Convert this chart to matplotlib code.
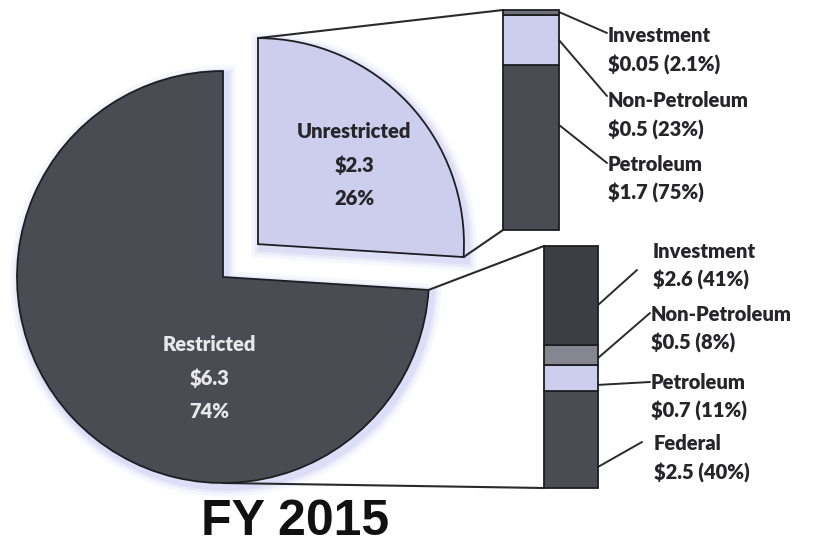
import numpy as np
import matplotlib.pyplot as plt
from matplotlib.patches import ConnectionPatch, Wedge

plt.rcParams['text.parse_math'] = False

# main split (FY 2015, $ billions)
main_labels = ['Unrestricted', 'Restricted']
main_values = [2.3, 6.3]
main_pct = [26, 74]

# unrestricted breakdown, bottom to top
unres_labels = ['Petroleum', 'Non-Petroleum', 'Investment']
unres_values = [1.7, 0.5, 0.05]
unres_pct = [75, 23, 2.1]

# restricted breakdown, bottom to top
res_labels = ['Federal', 'Petroleum', 'Non-Petroleum', 'Investment']
res_values = [2.5, 0.7, 0.5, 2.6]
res_pct = [40, 11, 8, 41]

title = 'FY 2015'

W, H = 817, 544
LAV = '#cdcdee'
DARK = '#4b4c53'
EDGE = '#1e1e22'
LINE = '#2a2a2e'
TXT = '#26262a'
FONT = ['Lato', 'DejaVu Sans']
WEIGHT = 'heavy'

fig = plt.figure(figsize=(W / 100, H / 100), dpi=100)
fig.patch.set_facecolor('white')
ax = fig.add_axes([0, 0, 1, 1])

# pie in pixel coordinates (y axis points down)
wedges, _ = ax.pie(main_pct, startangle=-90, counterclock=True, radius=206,
                   center=(223, 277), explode=[48, 0], colors=[LAV, DARK],
                   wedgeprops=dict(edgecolor=EDGE, linewidth=1.3, zorder=2))
ax.set_aspect('auto')
ax.set_xlim(0, W)
ax.set_ylim(H, 0)
ax.axis('off')

# soft lavender glow behind the pie
for w in wedges:
    for lw, al in [(14, 0.12), (9, 0.18), (5, 0.25)]:
        cx, cy = w.center
        g = Wedge((cx + 3, cy + 4), w.r, w.theta1, w.theta2, facecolor='none',
                  edgecolor='#b8b8f0', linewidth=lw, alpha=al, zorder=0.2)
        ax.add_patch(g)

ax.text(354, 165, f'{main_labels[0]}\n${main_values[0]:g}\n{main_pct[0]}%',
        ha='center', va='center', color=TXT, fontsize=14.5,
        fontweight=WEIGHT, family=FONT, linespacing=1.85, zorder=3)
ax.text(209, 378, f'{main_labels[1]}\n${main_values[1]:g}\n{main_pct[1]}%',
        ha='center', va='center', color='#e8e8ec', fontsize=14.5,
        fontweight=WEIGHT, family=FONT, linespacing=1.85, zorder=3)


def stacked_bar(x0, y0, x1, y1, pct, colors):
    bax = fig.add_axes([x0 / W, 1 - y1 / H, (x1 - x0) / W, (y1 - y0) / H])
    bottoms = np.concatenate([[0], np.cumsum(pct)[:-1]])
    bax.bar(0, pct, width=1, bottom=bottoms, color=colors,
            edgecolor=EDGE, linewidth=1.3, clip_on=False)
    bax.set_xlim(-0.5, 0.5)
    bax.set_ylim(0, sum(pct))
    bax.axis('off')
    return bax


def connect(xyA, axA, xyB, axB, lw=1.5):
    con = ConnectionPatch(xyA=xyA, coordsA=axA.transData, xyB=xyB,
                          coordsB=axB.transData, color=LINE, linewidth=lw,
                          zorder=0.5, clip_on=False)
    ax.add_artist(con)


def wedge_point(w, ang):
    cx, cy = w.center
    return (cx + w.r * np.cos(np.radians(ang)), cy + w.r * np.sin(np.radians(ang)))


top_bar = stacked_bar(503, 10, 559, 230, unres_pct, [DARK, LAV, '#6f7079'])
bot_bar = stacked_bar(544, 246, 598, 488, res_pct,
                      [DARK, LAV, '#858690', '#3d3e44'])

w_un, w_re = wedges
connect(wedge_point(w_un, w_un.theta1), ax, (-0.5, sum(unres_pct)), top_bar)
connect(wedge_point(w_un, w_un.theta2), ax, (-0.5, 0), top_bar)
connect(wedge_point(w_re, w_re.theta1), ax, (-0.5, sum(res_pct)), bot_bar)
connect(wedge_point(w_re, 90), ax, (-0.5, 0), bot_bar)


def label_group(bax, names, values, pct, anchors, ends, spots):
    for n, v, p, a, e, s in zip(names, values, pct, anchors, ends, spots):
        connect((0.5, a), bax, e, ax, lw=1.4)
        ax.text(s[0], s[1], f'{n}\n${v:g} ({p:g}%)', ha='left', va='center',
                color=TXT, fontsize=14.5, fontweight=WEIGHT, family=FONT,
                linespacing=1.6)


label_group(top_bar, unres_labels, unres_values, unres_pct,
            [47.8, 86.4, 99.2],
            [(607, 163), (607, 96), (607, 33)],
            [(608, 179), (608, 115.5), (608, 50.5)])
label_group(bot_bar, res_labels, res_values, res_pct,
            [8.7, 42.6, 53.7, 75.6],
            [(642, 442), (650, 382), (650, 313), (637, 270)],
            [(654, 458.5), (651, 397), (651, 329), (653, 266)])

ax.text(295, 522, title, ha='center', va='center', fontsize=36,
        fontweight='bold', family=['Liberation Sans', 'DejaVu Sans'],
        color='#111111')

fig.savefig('out.png', dpi=100)
